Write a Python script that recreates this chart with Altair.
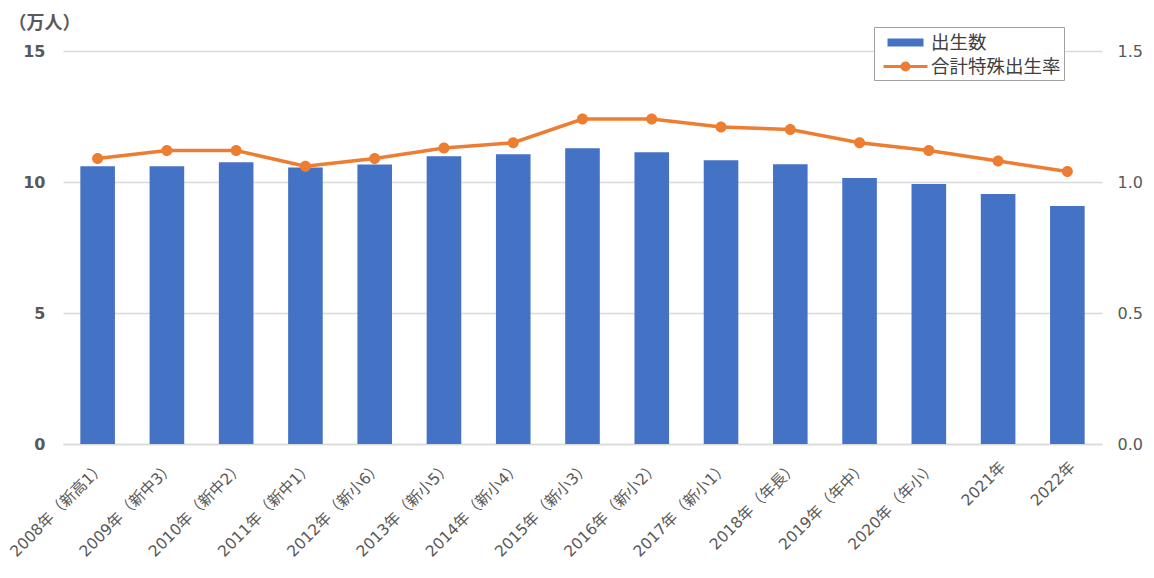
import altair as alt
import pandas as pd

years = ["2008年（新高1）", "2009年（新中3）", "2010年（新中2）", "2011年（新中1）",
         "2012年（新小6）", "2013年（新小5）", "2014年（新小4）", "2015年（新小3）",
         "2016年（新小2）", "2017年（新小1）", "2018年（年長）", "2019年（年中）",
         "2020年（年小）", "2021年", "2022年"]
births = [10.60, 10.60, 10.75, 10.55, 10.67, 10.98, 11.06, 11.29,
          11.14, 10.83, 10.68, 10.15, 9.92, 9.54, 9.08]
tfr = [1.09, 1.12, 1.12, 1.06, 1.09, 1.13, 1.15, 1.24,
       1.24, 1.21, 1.20, 1.15, 1.12, 1.08, 1.04]
series_names = ["出生数", "合計特殊出生率"]
left_ticks = [0, 5, 10, 15]
right_ticks = [0.0, 0.5, 1.0, 1.5]

BLUE = "#4472C4"
ORANGE = "#ED7D31"
GRAY = "#595959"
FONT = "DejaVu Sans, Noto Sans CJK JP"

RECT_PATH = "M-1.5,-0.23H1.5V0.23H-1.5Z"
LINE_CIRCLE_PATH = "M-2,0H2M0.32,0A0.32,0.32,0,1,1,-0.32,0A0.32,0.32,0,1,1,0.32,0Z"

df_b = pd.DataFrame({"year": years, "value": births, "series": series_names[0]})
df_t = pd.DataFrame({"year": years, "value": tfr, "series": series_names[1]})

legend = alt.Legend(
    title=None, orient="none", legendX=811, legendY=-24,
    labelFontSize=18.5, labelColor="#404040", labelFont="Noto Sans CJK JP",
    symbolSize=484, symbolStrokeWidth=3, symbolOffset=16, labelOffset=13,
    strokeColor="#a0a0a0", fillColor="white", padding=3, rowPadding=2,
)

fill_scale = alt.Scale(domain=series_names, range=[BLUE, ORANGE])
stroke_scale = alt.Scale(domain=series_names, range=[BLUE, ORANGE])
shape_scale = alt.Scale(domain=series_names, range=[RECT_PATH, LINE_CIRCLE_PATH])

x_enc = alt.X(
    "year:N", sort=years,
    scale=alt.Scale(paddingInner=0.5, paddingOuter=0.25),
    axis=alt.Axis(title=None, labelAngle=-45, labelAlign="right", labelBaseline="top",
                  ticks=False, domain=True, domainColor="#d9d9d9", domainWidth=1.3,
                  labelFontSize=15.5, labelColor=GRAY, labelPadding=15, labelFont=FONT),
)

bars = alt.Chart(df_b).mark_bar(size=34.6).encode(
    x=x_enc,
    y=alt.Y("value:Q", scale=alt.Scale(domain=[0, 15]),
            axis=alt.Axis(values=left_ticks, title="（万人）", titleAngle=0,
                          titleX=-55, titleY=-28, titleAlign="left", titleBaseline="middle",
                          titleFontWeight="bold", titleFontSize=18, titleColor=GRAY,
                          titleFont="Noto Sans CJK JP",
                          labelFontWeight="bold", labelFontSize=16, labelColor=GRAY,
                          labelPadding=18, labelFont=FONT, ticks=False, domain=False,
                          gridColor="#d9d9d9", gridWidth=1.3)),
    fill=alt.Fill("series:N", scale=fill_scale, legend=legend),
)

line = alt.Chart(df_t).mark_line(strokeWidth=3.5).encode(
    x=alt.X("year:N", sort=years),
    y=alt.Y("value:Q", scale=alt.Scale(domain=[0, 1.5]),
            axis=alt.Axis(orient="right", values=right_ticks, format=".1f", grid=False,
                          ticks=False, domain=False, labelFontSize=16, labelColor=GRAY,
                          labelPadding=15, labelFont=FONT, title=None)),
    stroke=alt.Stroke("series:N", scale=stroke_scale, legend=legend),
)

points = alt.Chart(df_t).mark_point(filled=True, size=1183, opacity=1).encode(
    x=alt.X("year:N", sort=years),
    y=alt.Y("value:Q", scale=alt.Scale(domain=[0, 1.5]), axis=None),
    fill=alt.Fill("series:N", scale=fill_scale, legend=legend),
    shape=alt.Shape("series:N", scale=shape_scale, legend=legend),
)

chart = alt.layer(bars, line, points).resolve_scale(y="independent").properties(
    width=1039, height=393,
    autosize=alt.AutoSizeParams(type="none"),
    padding={"left": 55, "top": 43, "right": 44, "bottom": 118},
    background="white",
).configure_view(stroke=None)

chart.save("out.html", embed_options={"renderer": "svg", "actions": False})
